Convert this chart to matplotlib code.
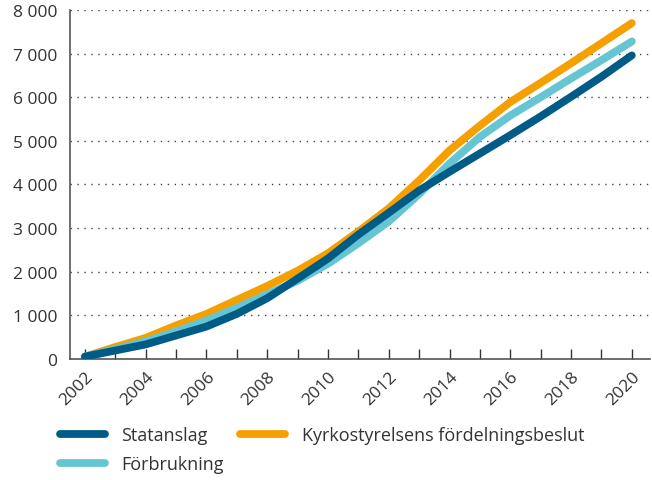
import matplotlib
matplotlib.use('Agg')
import matplotlib.pyplot as plt

plt.rcParams['font.family'] = ['Open Sans', 'DejaVu Sans']

years = list(range(2002, 2021))
statanslag = [50, 190, 330, 535, 740, 1030, 1390, 1840, 2300, 2850, 3350, 3860, 4290, 4710, 5130, 5560, 6010, 6470, 6960]
forbrukning = [50, 220, 400, 630, 880, 1170, 1480, 1790, 2180, 2650, 3150, 3780, 4480, 5090, 5580, 6000, 6430, 6850, 7280]
kyrko = [50, 270, 480, 765, 1030, 1350, 1670, 2020, 2420, 2920, 3450, 4090, 4780, 5350, 5890, 6330, 6780, 7240, 7700]

blue = '#005b86'
light = '#66c5d2'
orange = '#f5a000'
text = '#333333'

fig = plt.figure(figsize=(6.52, 4.81), dpi=100)
ax = fig.add_axes([0.107, 0.252, 0.890, 0.725])

lw = 5.6
ax.plot(years, statanslag, color=blue, lw=lw, solid_capstyle='round', label='Statanslag', zorder=3)
ax.plot(years, forbrukning, color=light, lw=lw, solid_capstyle='round', label='Förbrukning', zorder=2)
ax.plot(years, kyrko, color=orange, lw=lw, solid_capstyle='round', label='Kyrkostyrelsens fördelningsbeslut', zorder=1)

ax.set_xlim(2001.5, 2020.6)
ax.set_ylim(0, 8000)
ax.set_yticks(range(0, 8001, 1000))
ax.set_yticklabels(['0' if v == 0 else f'{v // 1000} 000' for v in range(0, 8001, 1000)])
ax.set_xticks(years)
ax.set_xticklabels([str(y) if y % 2 == 0 else '' for y in years], rotation=45,
                   ha='right', rotation_mode='anchor')

ax.grid(axis='y', linestyle=(0, (1, 4)), color='#444444', lw=1.0)
ax.set_axisbelow(True)
for s in ['top', 'right']:
    ax.spines[s].set_visible(False)
ax.spines['left'].set_color('#555555')
ax.spines['bottom'].set_color('#555555')
ax.spines['left'].set_linewidth(1.2)
ax.spines['bottom'].set_linewidth(1.2)
ax.tick_params(axis='y', length=0, pad=9, labelsize=12.5, labelcolor=text)
ax.tick_params(axis='x', direction='in', length=7, width=1, color='#333333',
               pad=7, labelsize=12.5, labelcolor=text)

handles, labels = ax.get_legend_handles_labels()
fig.legend(handles, labels, ncol=2, loc='upper left', bbox_to_anchor=(0.092, 0.112),
           frameon=False, fontsize=13, handlelength=2.5, handletextpad=0.9,
           columnspacing=0.9, labelspacing=0.6, labelcolor=text,
           borderaxespad=0, borderpad=0)

fig.savefig('out.png', dpi=100)
